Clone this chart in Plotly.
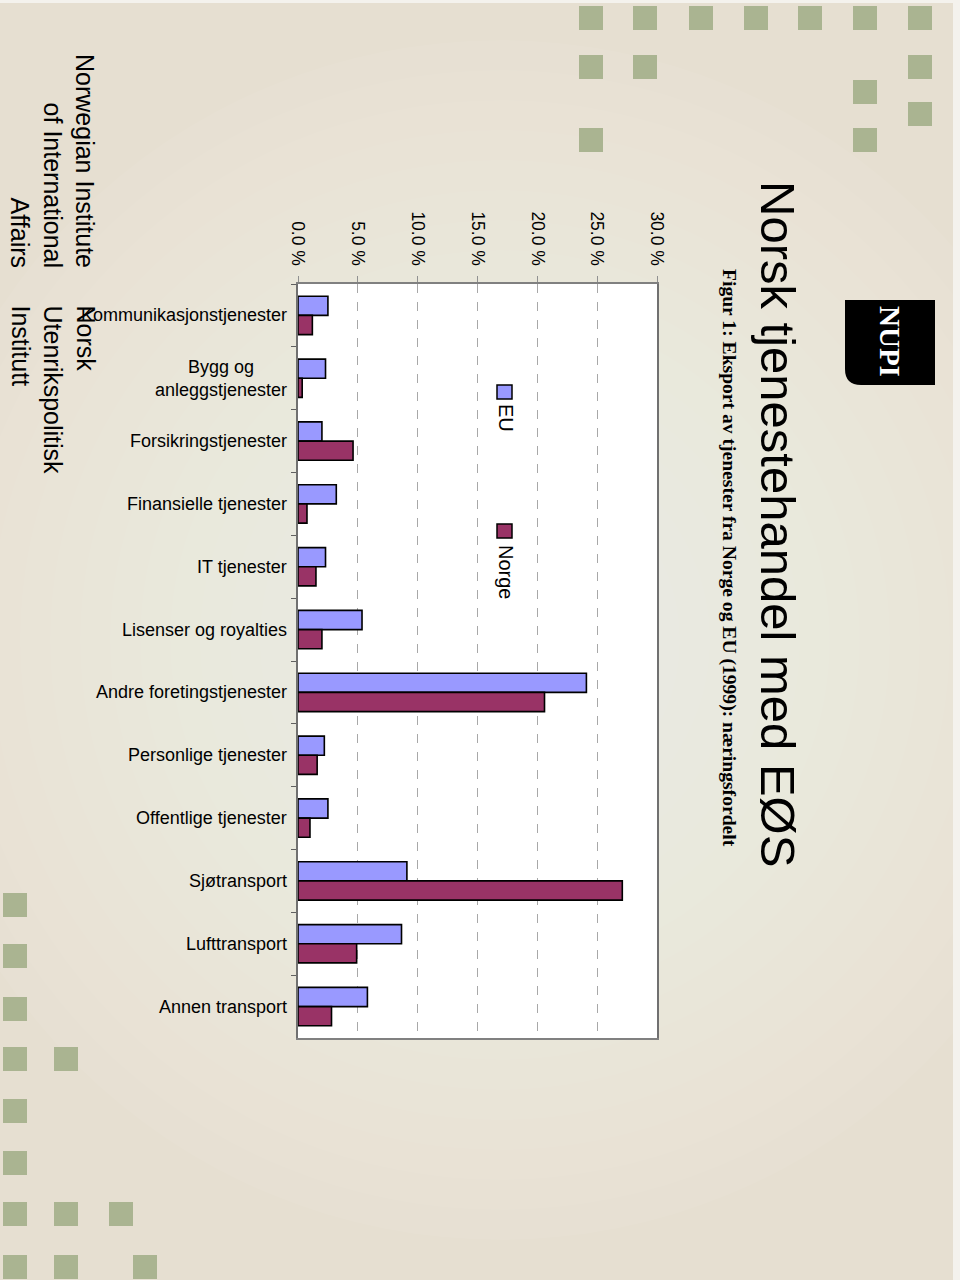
import plotly.graph_objects as go

# ---------------- data ----------------
categories = [
    "Kommunikasjonstjenester", "Bygg og anleggstjenester", "Forsikringstjenester",
    "Finansielle tjenester", "IT tjenester", "Lisenser og royalties",
    "Andre foretingstjenester", "Personlige tjenester", "Offentlige tjenester",
    "Sjøtransport", "Lufttransport", "Annen transport",
]
category_labels = [
    "Kommunikasjonstjenester", "Bygg og<br>anleggstjenester", "Forsikringstjenester",
    "Finansielle tjenester", "IT tjenester", "Lisenser og royalties",
    "Andre foretingstjenester", "Personlige tjenester", "Offentlige tjenester",
    "Sjøtransport", "Lufttransport", "Annen transport",
]
eu_values = [2.5, 2.3, 2.0, 3.2, 2.3, 5.35, 24.1, 2.2, 2.5, 9.1, 8.65, 5.8]
norge_values = [1.2, 0.35, 4.6, 0.75, 1.5, 2.0, 20.6, 1.6, 1.0, 27.1, 4.9, 2.8]
tick_values = [0, 5, 10, 15, 20, 25, 30]
tick_labels = ["0.0 %", "5.0 %", "10.0 %", "15.0 %", "20.0 %", "25.0 %", "30.0 %"]
series_names = ["EU", "Norge"]
series_colors = ["#9999ff", "#993366"]

title_text = "Norsk tjenestehandel med EØS"
subtitle_text = "Figur 1: Eksport av tjenester fra Norge og EU (1999): næringsfordelt"
footer_en = "Norwegian Institute<br>of International<br>Affairs"
footer_no = "Norsk<br>Utenrikspolitisk<br>Institutt"

# ---------------- layout geometry ----------------
W, H = 960, 1280
ML, MR, MT, MB = 298, 303, 284, 242
PW, PH = W - ML - MR, H - MT - MB


def px(x):
    return (x - ML) / PW


def py(y):
    return (H - MB - y) / PH


SANS = "Liberation Sans, Arial, sans-serif"
SERIF = "Liberation Serif, Times New Roman, serif"

fig = go.Figure()
for name, vals, col in zip(series_names, [eu_values, norge_values], series_colors):
    fig.add_trace(go.Bar(
        x=vals, y=categories, orientation="h", name=name,
        marker=dict(color=col, line=dict(color="#000000", width=1.6)),
        hoverinfo="x+y+name",
    ))

shapes = []
# background glow (soft radial light)
cx, cy = 500, 640
n_rings = 16
for i in range(n_rings):
    r = 600 - i * 30
    shapes.append(dict(type="circle", xref="paper", yref="paper",
                       x0=px(cx - r), x1=px(cx + r), y0=py(cy + r), y1=py(cy - r),
                       fillcolor="#ffffff", opacity=0.045, line=dict(width=0), layer="below"))
# right / top slide edge strip
shapes.append(dict(type="rect", xref="paper", yref="paper", x0=px(953), x1=px(960),
                   y0=py(1280), y1=py(0), fillcolor="#f4f2ed", line=dict(width=0), layer="below"))
shapes.append(dict(type="rect", xref="paper", yref="paper", x0=px(0), x1=px(960),
                   y0=py(3), y1=py(0), fillcolor="#f4f2ed", line=dict(width=0), layer="below"))

# decorative squares
sq = 24
squares = [(579, 6), (633, 6), (689, 6), (744, 6), (798, 6), (853, 6), (908, 6),
           (579, 55), (633, 55), (908, 55), (853, 80), (908, 102), (579, 128), (853, 128),
           (3, 893), (3, 944), (3, 997), (3, 1047), (54, 1047), (3, 1099), (3, 1151),
           (3, 1202), (54, 1202), (109, 1202), (3, 1255), (54, 1255), (133, 1255)]
for (sx, sy) in squares:
    shapes.append(dict(type="rect", xref="paper", yref="paper",
                       x0=px(sx), x1=px(sx + sq), y0=py(sy + sq), y1=py(sy),
                       fillcolor="#aab491", line=dict(width=0), layer="below"))

# NUPI logo: black box with rounded lower-left corner
lx0, lx1, ly0, ly1, rr = 845, 935, 300, 385, 16
path = (f"M {px(lx0)},{py(ly0)} L {px(lx1)},{py(ly0)} L {px(lx1)},{py(ly1)} "
        f"L {px(lx0 + rr)},{py(ly1)} Q {px(lx0)},{py(ly1)} {px(lx0)},{py(ly1 - rr)} Z")
shapes.append(dict(type="path", xref="paper", yref="paper", path=path,
                   fillcolor="#000000", line=dict(width=0)))

# legend squares
for (sy, col) in [(385, series_colors[0]), (524, series_colors[1])]:
    shapes.append(dict(type="rect", xref="paper", yref="paper",
                       x0=px(497), x1=px(512), y0=py(sy + 14), y1=py(sy),
                       fillcolor=col, line=dict(color="#000000", width=1.5)))

annotations = []
# title & subtitle (rotated)
annotations.append(dict(text=title_text, xref="paper", yref="paper", x=px(778), y=py(524),
                        xanchor="center", yanchor="middle", textangle=90, showarrow=False,
                        font=dict(family=SANS, size=49, color="#000000")))
annotations.append(dict(text="<b>" + subtitle_text + "</b>", xref="paper", yref="paper",
                        x=px(729), y=py(558), xanchor="center", yanchor="middle",
                        textangle=90, showarrow=False,
                        font=dict(family=SERIF, size=19.6, color="#000000")))
annotations.append(dict(text="<b>NUPI</b>", xref="paper", yref="paper", x=px(890), y=py(341),
                        xanchor="center", yanchor="middle", textangle=90, showarrow=False,
                        font=dict(family=SERIF, size=29, color="#ffffff")))
# footer
annotations.append(dict(text=footer_en, xref="paper", yref="paper", x=px(53), y=py(270),
                        xanchor="center", yanchor="bottom", textangle=90, showarrow=False,
                        align="right", font=dict(family=SANS, size=25, color="#000000")))
annotations.append(dict(text=footer_no, xref="paper", yref="paper", x=px(53), y=py(303),
                        xanchor="center", yanchor="top", textangle=90, showarrow=False,
                        align="left", font=dict(family=SANS, size=25, color="#000000")))
# legend texts
for (ty, name) in [(402, series_names[0]), (543, series_names[1])]:
    annotations.append(dict(text=name, xref="paper", yref="paper", x=px(506), y=py(ty),
                            xanchor="center", yanchor="top", textangle=90, showarrow=False,
                            font=dict(family=SANS, size=20, color="#000000")))
# category labels
for cat, lab in zip(categories, category_labels):
    annotations.append(dict(text=lab, xref="paper", yref="y", x=px(289), y=cat,
                            xanchor="right", yanchor="middle", align="center", showarrow=False,
                            font=dict(family=SANS, size=18, color="#000000")))

fig.update_layout(
    width=W, height=H,
    margin=dict(l=ML, r=MR, t=MT, b=MB, pad=0),
    paper_bgcolor="#e6dfd1",
    plot_bgcolor="#ffffff",
    barmode="group", bargap=0.39, bargroupgap=0.0,
    showlegend=False,
    shapes=shapes,
    annotations=annotations,
    font=dict(family=SANS, color="#000000"),
    xaxis=dict(
        range=[0, 30], side="top", tickmode="array", tickvals=tick_values, ticktext=tick_labels,
        tickangle=90, tickfont=dict(family=SANS, size=17.5, color="#000000"),
        ticks="outside", ticklen=6, tickcolor="#909090", ticklabelstandoff=4,
        showgrid=True, gridcolor="#a8a8a8", griddash="dash", gridwidth=1,
        zeroline=False, showline=True, mirror=True, linecolor="#808080", linewidth=2,
        fixedrange=True,
    ),
    yaxis=dict(
        type="category", categoryorder="array", categoryarray=categories,
        autorange="reversed", showticklabels=False,
        ticks="outside", ticklen=5, tickcolor="#606060", tickson="boundaries",
        showgrid=False, zeroline=False, showline=True, mirror=True,
        linecolor="#707070", linewidth=2, fixedrange=True,
    ),
)

fig.write_html("out.html", config={"displayModeBar": False},
               post_script="document.body.style.margin='0';document.body.style.overflow='hidden';")
